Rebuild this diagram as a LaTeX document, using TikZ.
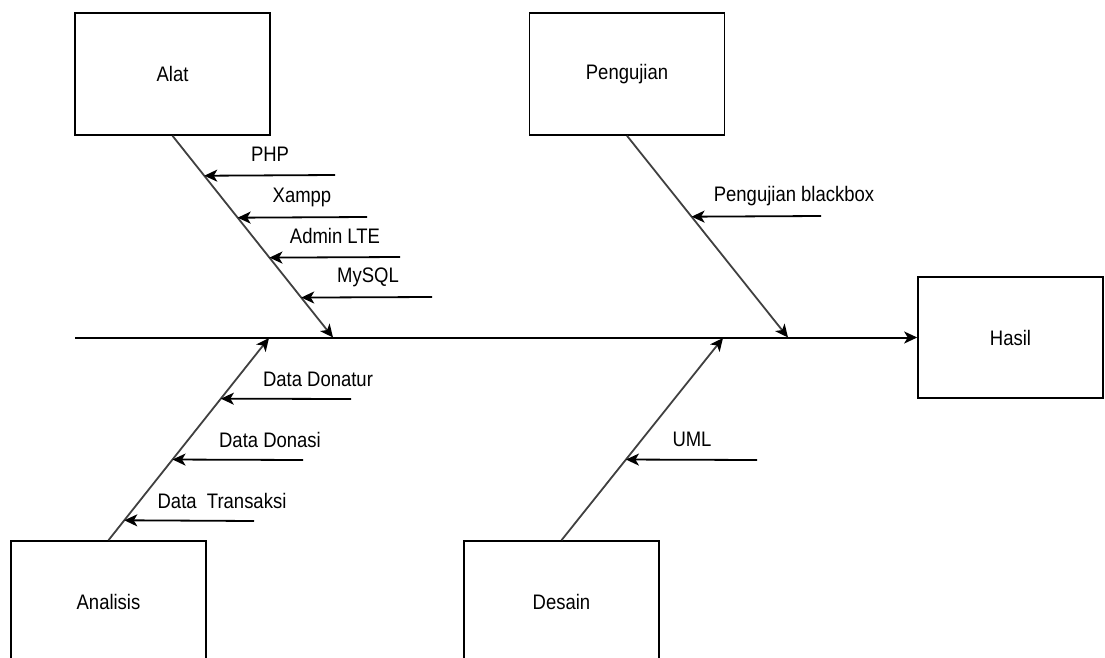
\documentclass[tikz,border=0pt]{standalone}
\usepackage{fontspec}
\setmainfont{Liberation Sans}[FakeStretch=0.88]
\usepackage{tikz}
\usetikzlibrary{arrows.meta,positioning}
\tikzstyle{cause} = [rectangle, minimum width=195pt, minimum height=122pt, text centered, draw=black, line width=1.6pt, font=\fontsize{21}{24}\selectfont]
\tikzstyle{bone} = [line width=2pt, -{Stealth[length=13pt,width=12pt,inset=3.5pt]}]
\tikzstyle{spine} = [line width=1.8pt, color=black!75, -{Stealth[length=13pt,width=12pt,inset=3.5pt,color=black]}]
\tikzstyle{twig} = [line width=1.8pt, -{Stealth[length=13pt,width=12pt,inset=3.5pt]}]
\tikzstyle{lbl} = [inner sep=0pt, font=\fontsize{21}{24}\selectfont]
\begin{document}
\begin{tikzpicture}[x=1pt,y=-1pt]
\clip (0,0) rectangle (1105,658);

% Categories
\node (alat) [cause] at (172.5,74) {Alat};
\node (uji) [cause] at (627,74) {Pengujian};
\node (analisis) [cause] at (108.5,602) {Analisis};
\node (desain) [cause] at (561.5,602) {Desain};

% Effect
\node (hasil) [cause, minimum width=185pt, minimum height=121pt] at (1010.5,337.5) {Hasil};

% Backbone
\coordinate (tail) at (75,337.5);
\draw[bone] (tail) -- (hasil.west);

% Spines
\coordinate (alatEnd) at (333,337.5);
\coordinate (ujiEnd) at (788,337.5);
\coordinate (analisisEnd) at (269,338);
\coordinate (desainEnd) at (723,338);
\draw[spine] (alat.south) -- coordinate[pos=0.198] (a1) coordinate[pos=0.406] (a2)
  coordinate[pos=0.604] (a3) coordinate[pos=0.802] (a4) (alatEnd);
\draw[spine] (uji.south) -- coordinate[pos=0.401] (u1) (ujiEnd);
\draw[spine] (analisis.north) -- coordinate[pos=0.0985] (n1) coordinate[pos=0.399] (n2)
  coordinate[pos=0.700] (n3) (analisisEnd);
\draw[spine] (desain.north) -- coordinate[pos=0.399] (d1) (desainEnd);

% Alat
\coordinate (php) at (335,175);
\coordinate (xampp) at (367,217);
\coordinate (lte) at (400,257);
\coordinate (mysql) at (432,297);
\draw[twig] (php) -- (a1);
\draw[twig] (xampp) -- (a2);
\draw[twig] (lte) -- (a3);
\draw[twig] (mysql) -- (a4);
\node[lbl] (lphp) at (270,154) {PHP};
\node[lbl] (lxampp) at (302,197) {Xampp};
\node[lbl] (llte) at (335,236) {Admin LTE};
\node[lbl] (lmysql) at (368,277) {MySQL};

% Pengujian
\coordinate (bbox) at (821,216);
\draw[twig] (bbox) -- (u1);
\node[lbl] (lbbox) at (794,196) {Pengujian blackbox};

% Analisis
\coordinate (transaksi) at (254,521);
\coordinate (donasi) at (303,460);
\coordinate (donatur) at (351,399);
\draw[twig] (transaksi) -- (n1);
\draw[twig] (donasi) -- (n2);
\draw[twig] (donatur) -- (n3);
\node[lbl] (ltransaksi) at (222,501) {Data\ \ Transaksi};
\node[lbl] (ldonasi) at (270,440) {Data Donasi};
\node[lbl] (ldonatur) at (318,379) {Data Donatur};

% Desain
\coordinate (uml) at (757,460);
\draw[twig] (uml) -- (d1);
\node[lbl] (luml) at (692,439) {UML};
\end{tikzpicture}
\end{document}
